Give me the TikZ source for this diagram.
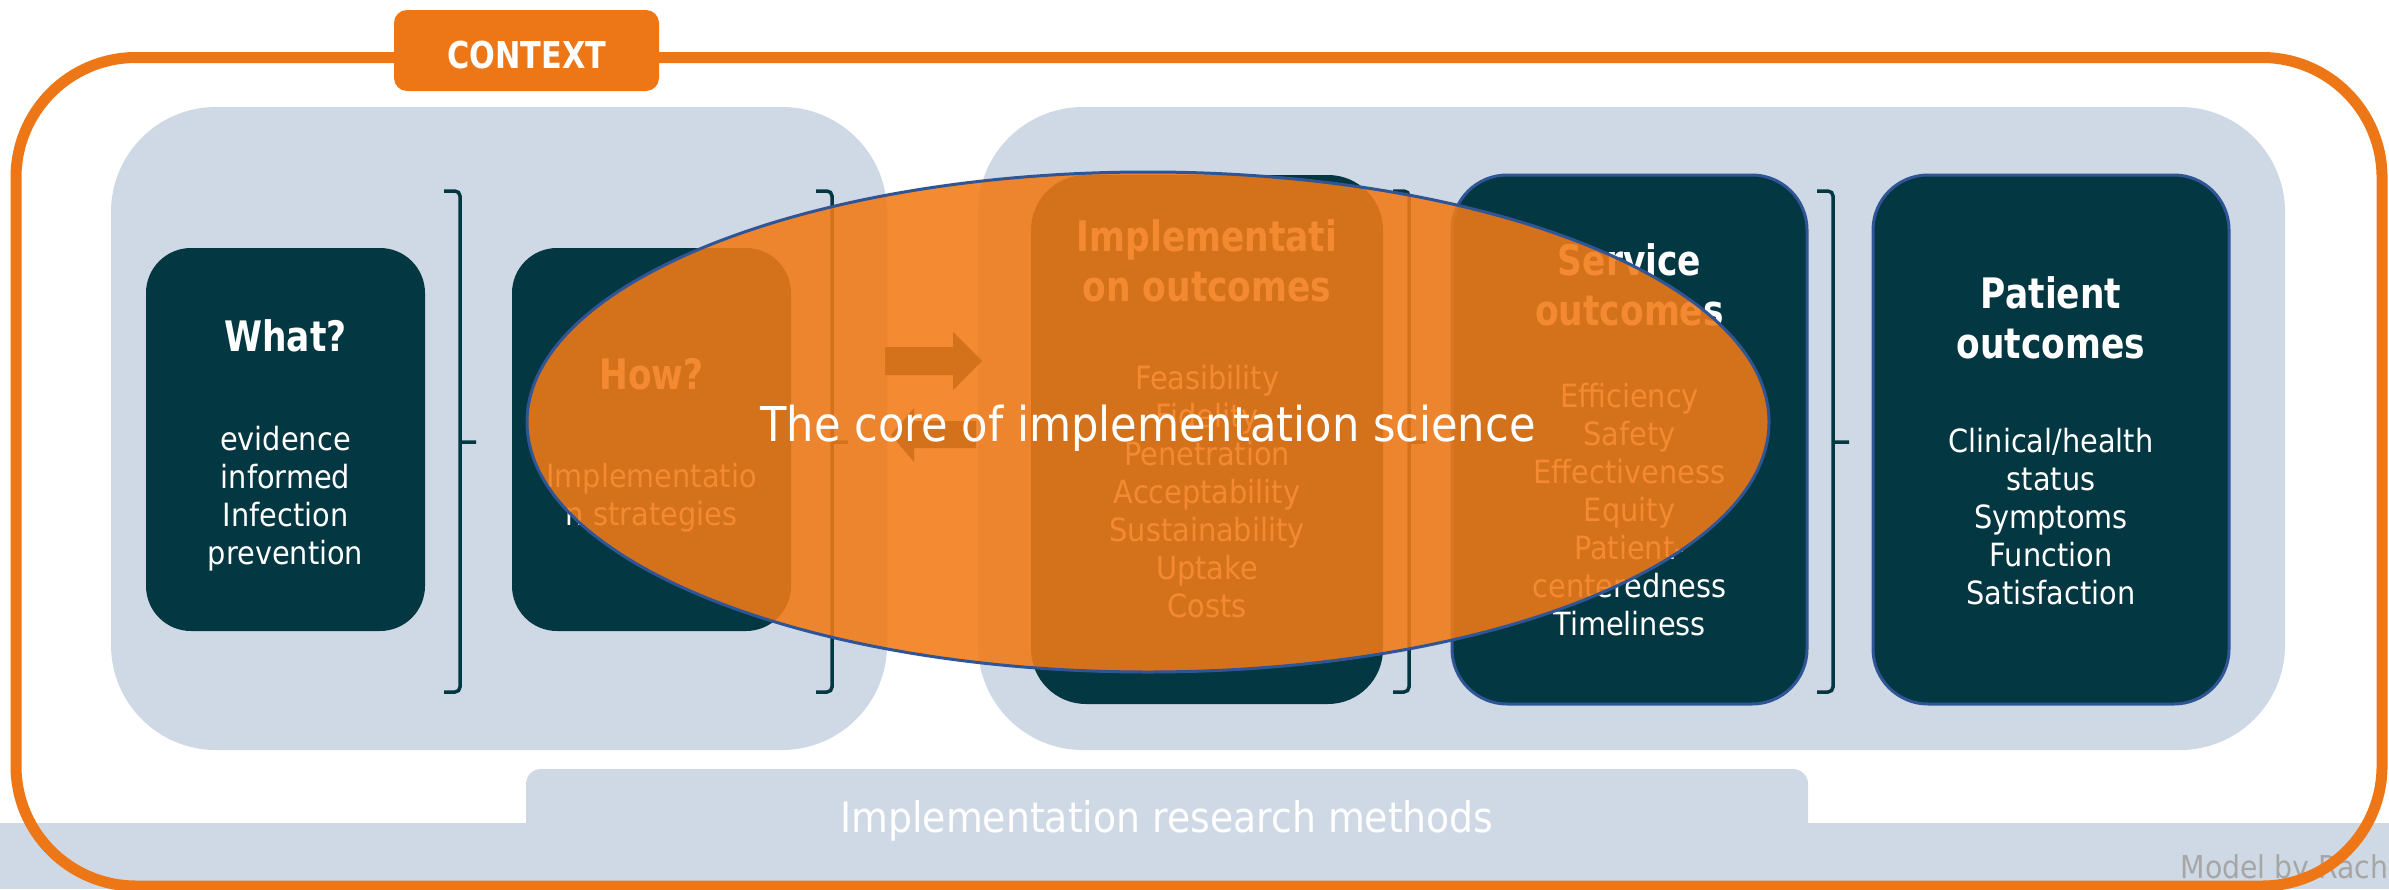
\documentclass[tikz,border=0pt]{standalone}
\usepackage{fontspec}
\setmainfont{DejaVu Sans}[FakeStretch=0.9]
\newfontfamily\headfont{DejaVu Sans}[FakeStretch=0.82]
\usepackage{tikz}
\usetikzlibrary{shapes}
\definecolor{ctxorange}{RGB}{237,118,23}
\definecolor{coreorange}{RGB}{242,122,22}
\definecolor{panelblue}{RGB}{207,217,229}
\definecolor{darkteal}{RGB}{3,55,66}
\definecolor{rimblue}{RGB}{47,85,151}
\definecolor{credgray}{RGB}{166,166,166}
\tikzstyle{panel} = [rectangle, fill=panelblue, rounded corners=105pt, minimum height=643pt]
\tikzstyle{ucell} = [rectangle, fill=darkteal, rounded corners=45pt, minimum width=279pt, minimum height=383pt]
\tikzstyle{ocell} = [rectangle, fill=darkteal, rounded corners=55pt, minimum height=529pt]
\tikzstyle{rcell} = [ocell, draw=rimblue, line width=3pt]
\tikzstyle{head} = [anchor=base, align=center, text=white, font=\headfont\bfseries\fontsize{42}{50}\selectfont]
\tikzstyle{items} = [anchor=base, align=center, text=white, font=\fontsize{32}{38}\selectfont]
\tikzstyle{brace} = [draw=darkteal, line width=3.5pt, rounded corners=5pt]
\tikzstyle{core} = [ellipse, draw=rimblue, line width=3pt, fill=coreorange, fill opacity=0.88, minimum width=1242pt, minimum height=500pt]

\begin{document}
\begin{tikzpicture}[x=1pt, y=-1pt]
    \useasboundingbox (0,0) rectangle (2389,889);

    % research methods band
    \fill[panelblue] (0,823) rectangle (2389,889);
    \fill[panelblue, rounded corners=15pt] (526,860) -- (526,769) -- (1808,769) -- (1808,860) -- cycle;
    \node[anchor=base, text=white, font=\fontsize{42}{50}\selectfont] (methods) at (1167,832) {Implementation research methods};
    \node[anchor=base west, text=credgray, font=\fontsize{31.5}{38}\selectfont] (credit) at (2177,878) {Model by Rachel};

    % context frame
    \draw[ctxorange, line width=11pt, rounded corners=120pt] (16,57.5) rectangle (2382,886);
    \node[fill=ctxorange, rounded corners=13pt, minimum width=265pt, minimum height=81pt] (context) at (526.5,50.5) {};
    \node[anchor=base, text=white, font=\headfont\bfseries\fontsize{37}{44}\selectfont] (ctxtxt) at (527,68) {CONTEXT};

    \node[panel, minimum width=776pt] (leftpanel) at (499,428.5) {};
    \node[panel, minimum width=1307pt] (rightpanel) at (1631.5,428.5) {};

    \node[ucell] (what) at (285.5,439.5) {};
    \node[ucell] (how) at (651.5,439.5) {};
    \node[ocell, minimum width=352pt] (implout) at (1207,439.5) {};
    \node[rcell, minimum width=355pt] (servout) at (1629.5,439.5) {};
    \node[rcell, minimum width=356pt] (patout) at (2051,439.5) {};

    % brackets
    \foreach \bx in {460,832,1409,1833}
        \draw[brace] (\bx-16,191) -- (\bx,191) -- (\bx,692) -- (\bx-16,692) (\bx,442) -- (\bx+16,442);

    % block arrows
    \fill[darkteal] (885,347) -- (953,347) -- (953,332) -- (982,361) -- (953,390) -- (953,375) -- (885,375) -- cycle;
    \fill[darkteal] (976,421) -- (914,421) -- (914,408) -- (891,435) -- (914,462) -- (914,448) -- (976,448) -- cycle;

    % base = last line
    \node[head] (whathd) at (285.5,351) {What?};
    \node[items] (whatls) at (285.5,564) {evidence\\informed\\Infection\\prevention};
    \node[head] (howhd) at (651.5,389) {How?};
    \node[items] (howls) at (651.5,525) {Implementatio\\n strategies};
    \node[head] (impohd) at (1207,301) {Implementati\\on outcomes};
    \node[items] (impols) at (1207,617) {Feasibility\\Fidelity\\Penetration\\Acceptability\\Sustainability\\Uptake\\Costs};
    \node[head] (servhd) at (1629.5,325) {Service\\outcomes};
    \node[items] (servls) at (1629.5,635) {Efficiency\\Safety\\Effectiveness\\Equity\\Patient-\\centeredness\\Timeliness};
    \node[head] (pathd) at (2051,358) {Patient\\outcomes};
    \node[items] (patls) at (2051,604) {Clinical/health\\status\\Symptoms\\Function\\Satisfaction};

    % the core
    \node[core] (core) at (1148,422) {};
    \node[anchor=base, text=white, font=\fontsize{48}{56}\selectfont] (coretxt) at (1148,441) {The core of implementation science};
\end{tikzpicture}
\end{document}
